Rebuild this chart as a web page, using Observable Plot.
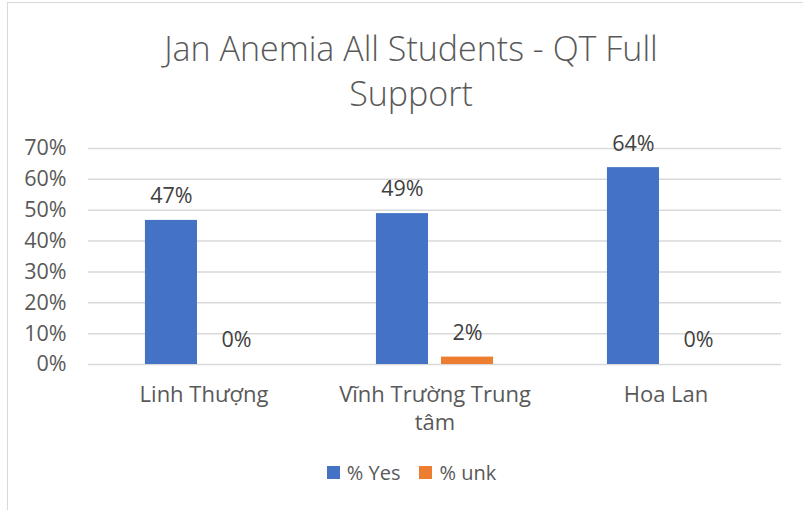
<!DOCTYPE html>
<html>
<head>
<meta charset="utf-8">
<script src="https://cdn.jsdelivr.net/npm/d3@7"></script>
<script src="https://cdn.jsdelivr.net/npm/@observablehq/plot@0.6"></script>
<style>
  html, body { margin: 0; padding: 0; background: #fff; }
  #wrap { position: relative; width: 803px; height: 510px; overflow: hidden; font-family: "Open Sans", sans-serif; color: #595959; }
  #frame { position: absolute; left: 7px; top: 2px; width: 820px; height: 530px; border: 1.5px solid #d9d9d9; box-sizing: border-box; }
  #title { position: absolute; left: 0; width: 803px; padding-left: 19px; box-sizing: border-box; top: 26px; text-align: center; font-size: 34px; font-weight: 300; line-height: 45px; color: #595959; }
  #chart { position: absolute; left: 0; top: 110px; }
  #legend { position: absolute; top: 459px; left: 0; width: 803px; padding-left: 20px; box-sizing: border-box; display: flex; justify-content: center; gap: 19px; font-size: 20px; color: #595959; }
  .item { display: flex; align-items: center; gap: 7px; }
  .sw { width: 13px; height: 13px; display: inline-block; }
</style>
</head>
<body>
<div id="wrap">
  <div id="frame"></div>
  <div id="title">Jan Anemia All Students - QT Full<br>Support</div>
  <div id="chart"></div>
  <div id="legend"></div>
</div>
<script>
const categories = ["Linh Thượng", "Vĩnh Trường Trung tâm", "Hoa Lan"];
const categoryLabels = ["Linh Thượng", "Vĩnh Trường Trung\ntâm", "Hoa Lan"];
const series = ["% Yes", "% unk"];
const yesValues = [0.467, 0.489, 0.638];
const unkValues = [0.0, 0.024, 0.0];
const colors = ["#4472C4", "#ED7D31"];
const yTicks = [0, 0.1, 0.2, 0.3, 0.4, 0.5, 0.6, 0.7];

const data = [];
categories.forEach((c, i) => {
  data.push({category: c, series: series[0], value: yesValues[i]});
  data.push({category: c, series: series[1], value: unkValues[i]});
});

const chart = Plot.plot({
  width: 803,
  height: 340,
  marginLeft: 88,
  marginRight: 22,
  marginTop: 38,
  marginBottom: 86,
  style: {fontFamily: "'Open Sans', sans-serif", color: "#595959", background: "transparent"},
  fx: {domain: categories, padding: 0, round: false, label: null},
  x: {domain: series, paddingInner: 0.2, paddingOuter: 0.875, round: false, axis: null},
  y: {domain: [0, 0.7], label: null},
  color: {domain: series, range: colors},
  marks: [
    Plot.ruleY(yTicks, {stroke: "#d9d9d9", strokeWidth: 1.5}),
    Plot.axisY({ticks: yTicks, tickFormat: d3.format(".0%"), tickSize: 0, tickPadding: 22, fontSize: 21.5, label: null, anchor: "left"}),
    Plot.axisFx({anchor: "bottom", tickSize: 0, tickPadding: 17, fontSize: 22, label: null, lineHeight: 1.28,
      tickFormat: d => categoryLabels[categories.indexOf(d)]}),
    Plot.barY(data, {fx: "category", x: "series", y: "value", fill: "series"}),
    Plot.text(data, {fx: "category", x: "series", y: "value", text: d => d3.format(".0%")(d.value), dy: -24, fontSize: 21.5, fill: "#404040"})
  ]
});
document.getElementById("chart").appendChild(chart);

const legend = document.getElementById("legend");
series.forEach((s, i) => {
  const item = document.createElement("div");
  item.className = "item";
  const sw = document.createElement("span");
  sw.className = "sw";
  sw.style.background = colors[i];
  const t = document.createElement("span");
  t.textContent = s;
  item.appendChild(sw);
  item.appendChild(t);
  legend.appendChild(item);
});
</script>
</body>
</html>
